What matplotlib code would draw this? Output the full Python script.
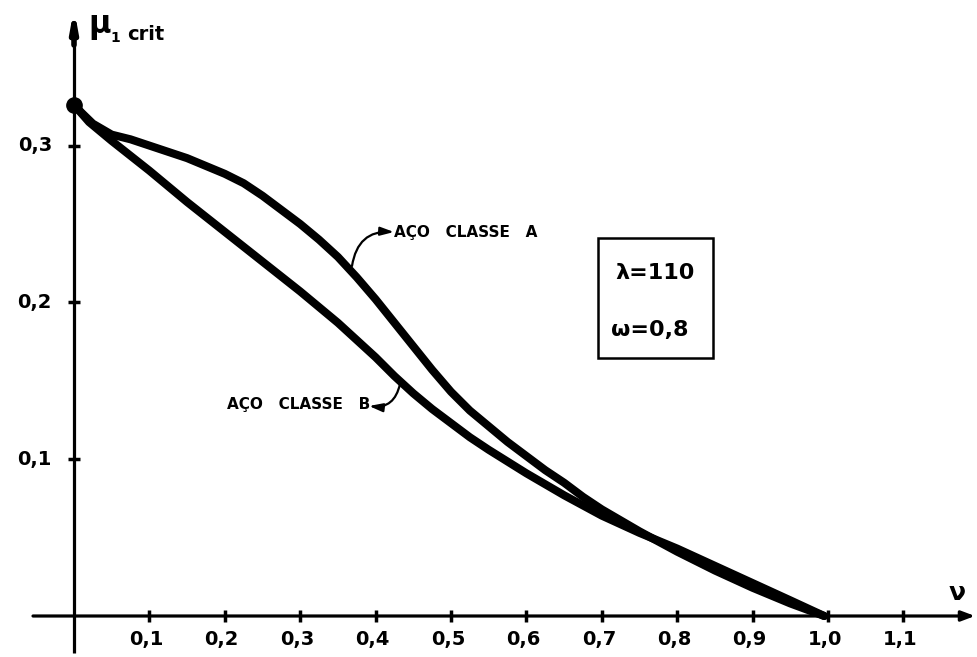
import matplotlib
matplotlib.use("Agg")
import matplotlib.pyplot as plt
from matplotlib.patches import FancyArrowPatch, Rectangle

# Critical load factor mu_1 crit versus nu, for lambda = 110, omega = 0.8
nu_a = [0.0, 0.01, 0.025, 0.05, 0.075, 0.10, 0.125, 0.15, 0.175, 0.20, 0.225,
        0.25, 0.275, 0.30, 0.325, 0.35, 0.375, 0.40, 0.425, 0.45, 0.475, 0.50,
        0.525, 0.55, 0.575, 0.60, 0.625, 0.65, 0.675, 0.70, 0.75, 0.80, 0.85,
        0.90, 0.95, 0.995]
mu_a = [0.326, 0.321, 0.314, 0.307, 0.304, 0.300, 0.296, 0.292, 0.287, 0.282, 0.276,
        0.268, 0.259, 0.250, 0.240, 0.229, 0.216, 0.202, 0.187, 0.172, 0.157, 0.143,
        0.131, 0.121, 0.111, 0.102, 0.093, 0.085, 0.076, 0.068, 0.054, 0.041, 0.029,
        0.018, 0.008, 0.0]

nu_b = [0.0, 0.02, 0.05, 0.10, 0.15, 0.20, 0.25, 0.30, 0.35, 0.375, 0.40, 0.425,
        0.45, 0.475, 0.50, 0.525, 0.55, 0.60, 0.65, 0.70, 0.75, 0.80, 0.85, 0.90,
        0.95, 0.995]
mu_b = [0.326, 0.315, 0.303, 0.284, 0.264, 0.245, 0.226, 0.207, 0.187, 0.176, 0.165, 0.153,
        0.142, 0.132, 0.123, 0.114, 0.106, 0.091, 0.077, 0.064, 0.053, 0.043, 0.032, 0.021,
        0.010, 0.0]

x_ticks = [0.1, 0.2, 0.3, 0.4, 0.5, 0.6, 0.7, 0.8, 0.9, 1.0, 1.1]
x_tick_labels = ["0,1", "0,2", "0,3", "0,4", "0,5", "0,6", "0,7", "0,8", "0,9", "1,0", "1,1"]
y_ticks = [0.1, 0.2, 0.3]
y_tick_labels = ["0,1", "0,2", "0,3"]

label_a = "AÇO   CLASSE   A"
label_b = "AÇO   CLASSE   B"
params = ["λ=110", "ω=0,8"]

W, H = 978, 657
fig = plt.figure(figsize=(W / 100, H / 100), dpi=100)
ax = fig.add_axes([0, 0, 1, 1])
ax.set_axis_off()

# pixel <-> data mapping
X0, SX = 74.0, 754.0
Y0, SY = 616.0, 1568.0
ax.set_xlim(-X0 / SX, (W - X0) / SX)
ax.set_ylim((Y0 - H) / SY, Y0 / SY)


def px(xp):
    return (xp - X0) / SX


def py(yp):
    return (Y0 - yp) / SY


ink = "black"
axis_lw = 2.3

# x axis with arrow
ax.add_patch(FancyArrowPatch((px(33), 0), (px(975), 0), arrowstyle="-|>,head_length=8,head_width=3",
                             mutation_scale=1, lw=axis_lw, color=ink, shrinkA=0, shrinkB=0))
# y axis with arrow
ax.plot([0, 0], [py(653), py(30)], color=ink, lw=axis_lw, solid_capstyle="butt")
ax.add_patch(FancyArrowPatch((0, py(45)), (0, py(8)), arrowstyle="-|>,head_length=10,head_width=1.8",
                             mutation_scale=1, lw=4.0, color=ink, shrinkA=0, shrinkB=0))

# tick marks
tk = 6
for t in x_ticks:
    ax.plot([t, t], [py(Y0 - tk), py(Y0 + tk)], color=ink, lw=2.5, solid_capstyle="butt")
for t in y_ticks:
    ax.plot([px(X0 - tk), px(X0 + tk)], [t, t], color=ink, lw=2.5, solid_capstyle="butt")

tick_font = dict(fontsize=14, fontweight="bold", color=ink, family="DejaVu Sans")
for t, lab in zip(x_ticks, x_tick_labels):
    ax.text(t - 0.004, py(640), lab, ha="center", va="center", **tick_font)
for t, lab in zip(y_ticks, y_tick_labels):
    ax.text(px(52), t, lab, ha="right", va="center", **tick_font)

# axis titles
ax.text(px(88), py(26), "μ", fontsize=22, fontweight="bold", ha="left", va="center", color=ink)
ax.text(px(110), py(38), "1", fontsize=10, fontweight="bold", ha="left", va="center", color=ink)
ax.text(px(127), py(34), "crit", fontsize=14, fontweight="bold", ha="left", va="center", color=ink)
ax.text(px(957), py(593), "ν", fontsize=18, fontweight="bold", ha="center", va="center", color=ink)

# curves
curve_lw = 5.8
ax.plot(nu_a, mu_a, color=ink, lw=curve_lw, solid_capstyle="round", solid_joinstyle="round")
ax.plot(nu_b, mu_b, color=ink, lw=curve_lw, solid_capstyle="round", solid_joinstyle="round")
ax.plot([0], [mu_a[0]], "o", color=ink, ms=11)

# curve labels with leader lines
lab_font = dict(fontsize=11, fontweight="bold", color=ink, family="DejaVu Sans")
ax.text(px(394), py(233), label_a, ha="left", va="center", **lab_font)
ax.add_patch(FancyArrowPatch((px(352), py(266)), (px(394), py(232)),
                             connectionstyle="arc3,rad=-0.45",
                             arrowstyle="-|>,head_length=8,head_width=2.5",
                             mutation_scale=1, lw=1.6, color=ink, shrinkA=0, shrinkB=0))
ax.text(px(370), py(404), label_b, ha="right", va="center", **lab_font)
ax.add_patch(FancyArrowPatch((px(400), py(384)), (px(369), py(406)),
                             connectionstyle="arc3,rad=-0.45",
                             arrowstyle="-|>,head_length=8,head_width=2.5",
                             mutation_scale=1, lw=1.6, color=ink, shrinkA=0, shrinkB=0))

# parameter box
ax.add_patch(Rectangle((px(598), py(358)), (713 - 598) / SX, (358 - 238) / SY,
                       fill=False, lw=1.8, edgecolor=ink))
ax.text(px(655), py(273), params[0], ha="center", va="center", fontsize=16, fontweight="bold", color=ink)
ax.text(px(650), py(330), params[1], ha="center", va="center", fontsize=16, fontweight="bold", color=ink)

fig.savefig("out.png", dpi=100)
